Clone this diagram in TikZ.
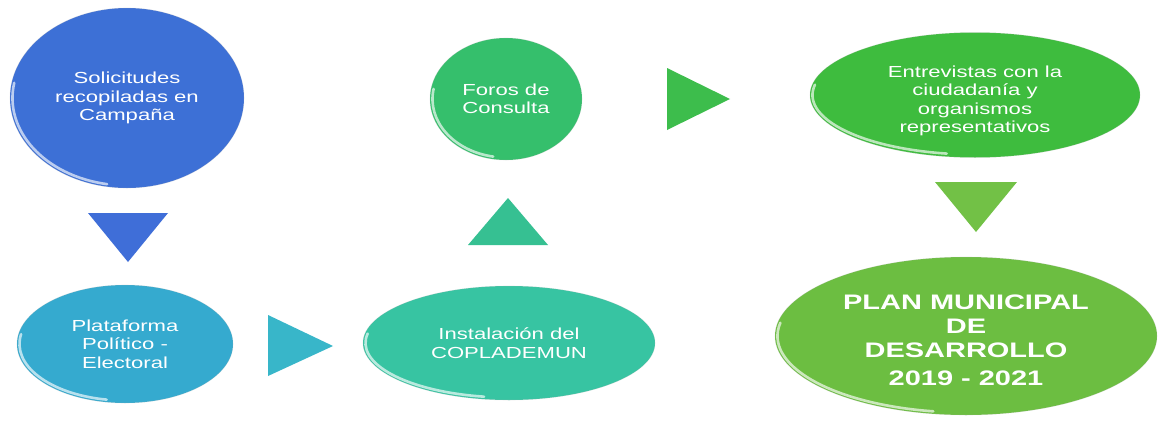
\documentclass[tikz,border=0pt]{standalone}
\usepackage{fontspec}
\setmainfont{Liberation Sans}[FakeStretch=1.38]
\usetikzlibrary{shapes.geometric}
\definecolor{cBlue}{HTML}{3D70D6}
\definecolor{cSky}{HTML}{35AACF}
\definecolor{cTeal}{HTML}{37C4A2}
\definecolor{cMint}{HTML}{35BF6C}
\definecolor{cGreen}{HTML}{3EBC3E}
\definecolor{cLeaf}{HTML}{6CBE41}
\definecolor{tBlue}{HTML}{3F6ED8}
\definecolor{tSky}{HTML}{38B6C9}
\definecolor{tTeal}{HTML}{36C092}
\definecolor{tGreen}{HTML}{3DBD4C}
\definecolor{tLeaf}{HTML}{72C146}
\newcommand{\glint}[3]{%
  \draw[white, opacity=.65, line width=2.6pt, line cap=round]
    (#1.center) ++(100:{#2-2.5} and {#3-2.5}) arc[start angle=100, end angle=190, x radius=#2-2.5, y radius=#3-2.5];}
\begin{document}
\begin{tikzpicture}[x=1pt,y=-1pt,
  bub/.style={ellipse, inner sep=0pt,
    draw=white!70!black, draw opacity=.25, line width=.6pt},
  bubtext/.style={text=white, align=center, inner sep=0pt,
    font=\fontsize{16}{18.5}\selectfont}]
\useasboundingbox[fill=white] (0,0) rectangle (1165,434);

\node[bub, bubtext, fill=cBlue, minimum width=234, minimum height=180] (sol) at (127,98)
  {Solicitudes\\recopiladas en\\Campaña};
\node[bub, bubtext, fill=cSky, minimum width=216, minimum height=118] (pla) at (125,344)
  {Plataforma\\Político -\\Electoral};
\node[bub, bubtext, fill=cTeal, minimum width=292, minimum height=114] (ins) at (509,343)
  {Instalación del\\COPLADEMUN};
\node[bub, bubtext, fill=cMint, minimum width=152, minimum height=122] (for) at (506,99)
  {Foros de\\Consulta};
\node[bub, fill=cGreen, minimum width=330, minimum height=125] (ent) at (975,95) {};
\node[bub, fill=cLeaf, minimum width=382, minimum height=158] (plan) at (966,336) {};

\glint{sol}{117}{90}
\glint{pla}{108}{59}
\glint{ins}{146}{57}
\glint{for}{76}{61}
\glint{ent}{165}{62}
\glint{plan}{191}{79}

\node[bubtext] (entT) at (975,101)
  {Entrevistas con la\\ciudadanía y\\organismos\\representativos};
\node[bubtext, font=\bfseries\fontsize{21}{24}\selectfont] (planT) at (966,340)
  {PLAN MUNICIPAL\\DE\\DESARROLLO\\[4pt]2019 - 2021};

\fill[tBlue] (88,213) -- (168,213) -- (128,262) -- cycle;
\fill[tSky] (268,315) -- (333,346) -- (268,376) -- cycle;
\fill[tTeal] (468,245) -- (548,245) -- (508,198) -- cycle;
\fill[tGreen] (667,68) -- (730,99) -- (667,130) -- cycle;
\fill[tLeaf] (935,182) -- (1017,182) -- (976,232) -- cycle;
\end{tikzpicture}
\end{document}
